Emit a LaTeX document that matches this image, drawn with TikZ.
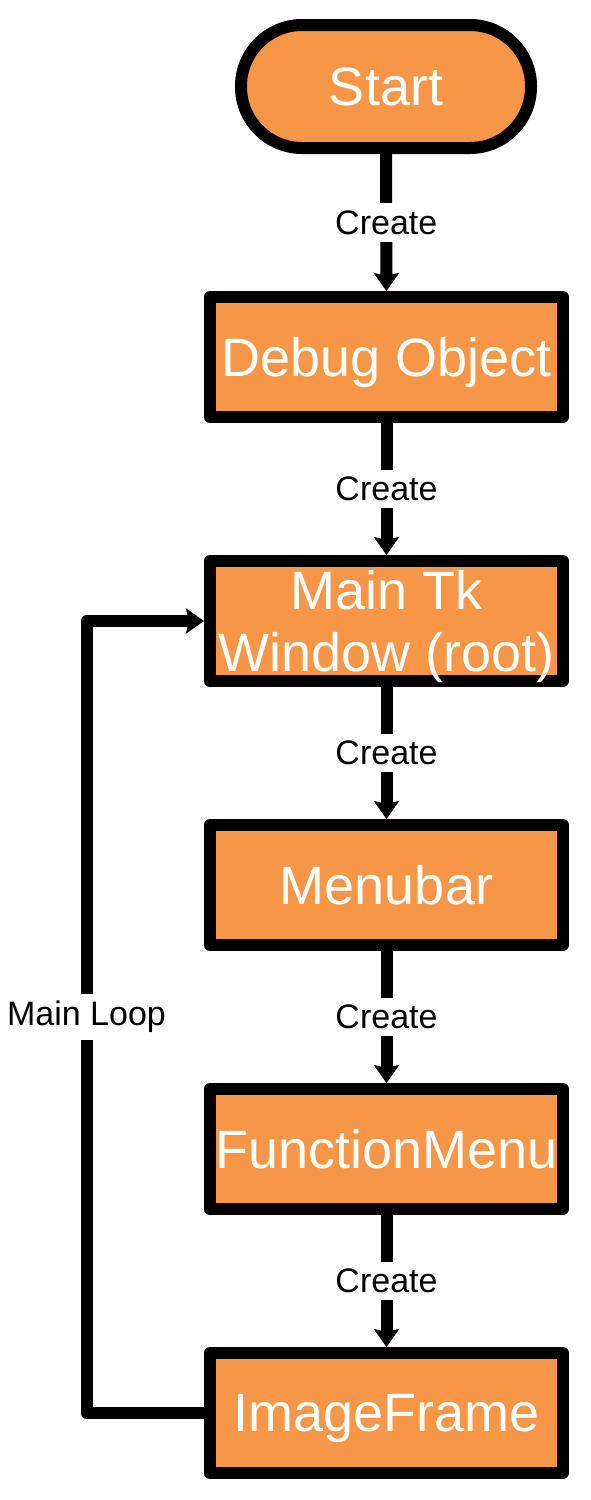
\documentclass[tikz,border=0pt]{standalone}
\usepackage{fontspec}
\setmainfont{Liberation Sans}
\usetikzlibrary{arrows.meta}
\definecolor{boxorange}{HTML}{F79646}
\begin{document}
\begin{tikzpicture}[x=1pt,y=-1pt,
  procbox/.style={draw=black, line width=12pt, fill=boxorange, line join=round,
    minimum width=353pt, minimum height=120pt, inner sep=0pt, align=center,
    text depth=0pt, text=white, font=\fontsize{54}{62}\selectfont},
  termbox/.style={procbox, minimum width=290pt, minimum height=123pt, rounded corners=61pt},
  conn/.style={draw=black, line width=12pt, -{Stealth[length=18pt,width=25pt,inset=3pt]}},
  lbl/.style={fill=white, inner sep=7pt, text=black, font=\fontsize{34}{38}\selectfont}]
\useasboundingbox (0,0) rectangle (590,1500);
\node[termbox] (start) at (386,86.5) {Start};
\node[procbox] (debug) at (386.5,357) {Debug Object};
\node[procbox] (root) at (386.5,621) {Main Tk\\Window (root)};
\node[procbox] (menubar) at (386.5,885) {Menubar};
\node[procbox] (funcmenu) at (386.5,1149) {FunctionMenu};
\node[procbox] (imgframe) at (386.5,1413) {ImageFrame};
\coordinate (lb) at (86.5,1413);
\coordinate (lt) at (86.5,621);
\draw[conn] (start) -- node[lbl] {Create} (debug);
\draw[conn] (debug) -- node[lbl] {Create} (root);
\draw[conn] (root) -- node[lbl] {Create} (menubar);
\draw[conn] (menubar) -- node[lbl] {Create} (funcmenu);
\draw[conn] (funcmenu) -- node[lbl] {Create} (imgframe);
\draw[conn, line join=round] (imgframe.west) -- (lb) -- node[lbl, pos=0.5] {Main Loop} (lt) -- (root.west);
\end{tikzpicture}
\end{document}
